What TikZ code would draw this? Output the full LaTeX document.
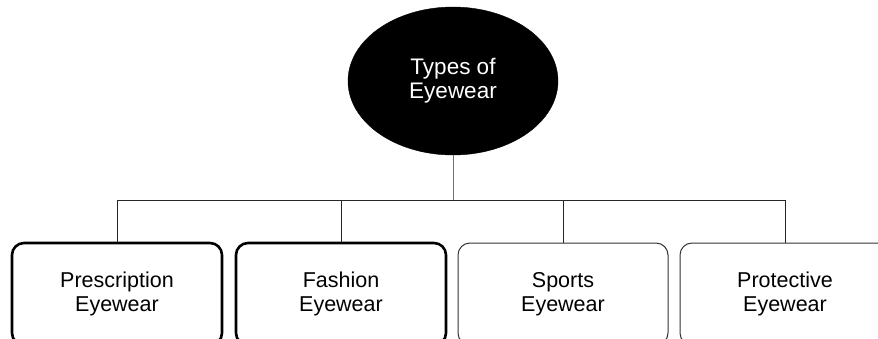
\documentclass[tikz,border=0pt]{standalone}
\usepackage{fontspec}
\setmainfont{Liberation Sans}
\usetikzlibrary{shapes.geometric}
\begin{document}
\begin{tikzpicture}[x=1pt,y={(0pt,-1pt)},
  rootnode/.style={ellipse,fill=black,draw=black,minimum width=210pt,minimum height=148pt,inner sep=0pt,
    text=white,font=\fontsize{22.5pt}{25pt}\selectfont},
  typebox/.style={rectangle,rounded corners=12pt,draw=black,minimum width=210pt,minimum height=102pt,
    inner sep=0pt,align=center,font=\fontsize{21.5pt}{24pt}\selectfont},
  thickbox/.style={typebox,line width=2.6pt},
  thinbox/.style={typebox,line width=1pt,draw=black!80},
  conn/.style={line width=1pt,draw=black!85}]
\useasboundingbox (0,0) rectangle (878,338);
\clip (0,0) rectangle (878,338);
\node[rootnode] (root) at (453,81) {\raisebox{-4pt}{\begin{tabular}{@{}c@{}}Types of\\[-1pt]Eyewear\end{tabular}}};
\node[thickbox] (b1) at (117,294) {Prescription\\Eyewear};
\node[thickbox] (b2) at (341,294) {Fashion\\Eyewear};
\node[thinbox] (b3) at (563,294) {Sports\\Eyewear};
\node[thinbox] (b4) at (785,294) {Protective\\Eyewear};
\coordinate (bus) at (453,200);
\draw[conn,draw=black!55] (root.south) -- (bus);
\draw[conn] (b1.north) |- (bus);
\draw[conn] (b2.north) |- (bus);
\draw[conn] (b3.north) |- (bus);
\draw[conn] (b4.north) |- (bus);
\end{tikzpicture}
\end{document}
